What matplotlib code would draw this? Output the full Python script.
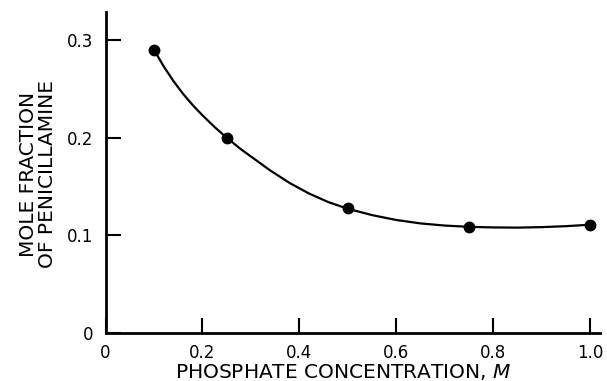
import matplotlib
matplotlib.use("Agg")
import matplotlib.pyplot as plt

# measured points
conc = [0.10, 0.25, 0.50, 0.75, 1.00]
mole_frac = [0.290, 0.200, 0.1275, 0.1086, 0.110]

# smooth fitted curve
curve_x = [0.10, 0.12, 0.14, 0.16, 0.18, 0.20, 0.225, 0.25, 0.28, 0.31, 0.34, 0.38,
           0.42, 0.46, 0.50, 0.55, 0.60, 0.65, 0.70, 0.75, 0.80, 0.85, 0.90, 0.95, 1.00]
curve_y = [0.290, 0.273, 0.258, 0.2448, 0.2332, 0.2228, 0.2108, 0.1998, 0.1878, 0.177,
           0.1662, 0.1534, 0.1426, 0.1338, 0.127, 0.1205, 0.1155, 0.112, 0.1098, 0.1085,
           0.1079, 0.1077, 0.1082, 0.1092, 0.1107]

xticks = [0, 0.2, 0.4, 0.6, 0.8, 1.0]
xtick_labels = ["0", "0.2", "0.4", "0.6", "0.8", "1.0"]
yticks = [0, 0.1, 0.2, 0.3]
ytick_labels = ["0", "0.1", "0.2", "0.3"]

plt.rcParams["font.family"] = ["DejaVu Sans"]

W, H = 607, 381
fig = plt.figure(figsize=(W / 100, H / 100), dpi=100)
ax = fig.add_axes([105.5 / W, (H - 332.7) / H, (600 - 105.5) / W, (332.7 - 12) / H])

ax.plot(curve_x, curve_y, color="black", lw=1.6, solid_capstyle="round", solid_joinstyle="round")
ax.plot(conc, mole_frac, "o", color="black", ms=7.5)

ax.set_xlim(0, 1.02)
ax.set_ylim(0, 0.3287)

for side in ["top", "right"]:
    ax.spines[side].set_visible(False)
for side in ["left", "bottom"]:
    ax.spines[side].set_linewidth(2)

ax.set_xticks(xticks)
ax.set_xticklabels(xtick_labels, fontsize=12)
ax.set_yticks(yticks)
ax.set_yticklabels(ytick_labels, fontsize=12)
ax.tick_params(direction="in", length=11, width=1.5)
ax.tick_params(axis="y", pad=9)
ax.tick_params(axis="x", pad=8)

fig.text(343 / W, 3 / H, "PHOSPHATE CONCENTRATION, $M$", fontsize=14.5,
         ha="center", va="baseline")
fig.text(38 / W, 1 - 174 / H, "MOLE FRACTION\nOF PENICILLAMINE", fontsize=14.5,
         ha="center", va="center", rotation=90, linespacing=1.0)

fig.savefig("out.png", dpi=100)
